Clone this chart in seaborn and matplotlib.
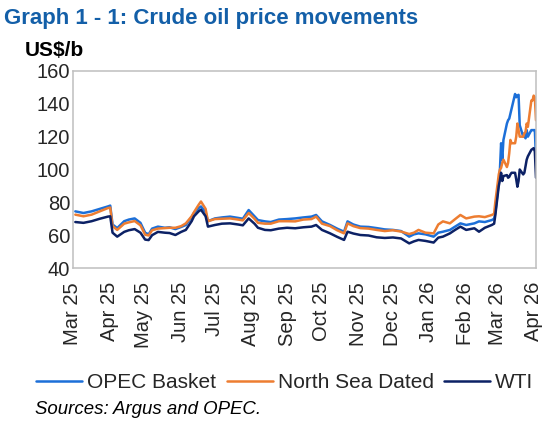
"""
Graph 1 - 1: Crude oil price movements
"""

import pandas as pd
import matplotlib
matplotlib.use('Agg')
import matplotlib.pyplot as plt
import matplotlib.dates as mdates
import seaborn as sns

# Data (US$/b)
dates = [
    '2025-03-03', '2025-03-10', '2025-03-17', '2025-03-24', '2025-03-31', '2025-04-02',
    '2025-04-04', '2025-04-08', '2025-04-14', '2025-04-18', '2025-04-23', '2025-04-28',
    '2025-05-02', '2025-05-05', '2025-05-08', '2025-05-13', '2025-05-19', '2025-05-23',
    '2025-05-28', '2025-06-02', '2025-06-06', '2025-06-11', '2025-06-13', '2025-06-17',
    '2025-06-19', '2025-06-23', '2025-06-25', '2025-07-01', '2025-07-07', '2025-07-14',
    '2025-07-21', '2025-07-25', '2025-07-30', '2025-08-04', '2025-08-07', '2025-08-13',
    '2025-08-18', '2025-08-25', '2025-09-01', '2025-09-08', '2025-09-15', '2025-09-22',
    '2025-09-26', '2025-10-01', '2025-10-08', '2025-10-14', '2025-10-20', '2025-10-23',
    '2025-10-28', '2025-11-03', '2025-11-10', '2025-11-17', '2025-11-24', '2025-12-01',
    '2025-12-08', '2025-12-15', '2025-12-19', '2025-12-23', '2025-12-29', '2026-01-05',
    '2026-01-09', '2026-01-13', '2026-01-19', '2026-01-23', '2026-01-28', '2026-02-02',
    '2026-02-09', '2026-02-13', '2026-02-18', '2026-02-24', '2026-02-26', '2026-02-27',
    '2026-03-02', '2026-03-03', '2026-03-04', '2026-03-05', '2026-03-06', '2026-03-09',
    '2026-03-10', '2026-03-11', '2026-03-12', '2026-03-13', '2026-03-16', '2026-03-17',
    '2026-03-18', '2026-03-19', '2026-03-20', '2026-03-23', '2026-03-24', '2026-03-25',
    '2026-03-26', '2026-03-27', '2026-03-30', '2026-03-31', '2026-04-01', '2026-04-02',
    '2026-04-03',
]

opec_basket = [
    74.5, 73.5, 74.5, 76.0, 77.5, 78.0,
    66.5, 64.3, 68.5, 69.5, 70.2, 67.5,
    61.5, 60.5, 64.0, 65.2, 64.5, 64.8,
    63.7, 65.0, 66.2, 71.0, 73.5, 76.5,
    77.5, 74.0, 68.5, 70.2, 70.8, 71.3,
    70.5, 70.0, 75.3, 71.5, 69.2, 68.4,
    68.0, 69.5, 69.8, 70.2, 70.8, 71.3,
    72.3, 68.4, 66.2, 64.0, 62.1, 68.4,
    66.5, 65.2, 65.0, 64.3, 63.5, 63.2,
    62.5, 59.1, 60.5, 61.1, 60.5, 59.1,
    61.5, 62.1, 63.2, 65.0, 67.2, 66.2,
    67.2, 68.4, 68.0, 69.2, 70.0, 73.5,
    92.0, 100.0, 116.0, 106.0, 118.0, 128.0,
    130.0, 131.0, 134.0, 137.0, 146.0, 144.0,
    145.0, 145.5, 127.0, 120.0, 122.0, 119.0,
    124.0, 120.0, 124.0, 124.0, 124.0, 124.0,
    107.0,
]

north_sea_dated = [
    72.5, 71.5, 72.5, 74.5, 76.5, 76.8,
    65.5, 63.2, 67.0, 67.8, 68.6, 66.0,
    60.3, 59.8, 63.0, 64.0, 64.3, 64.5,
    64.5, 65.5, 67.2, 71.5, 74.0, 78.5,
    80.5, 76.0, 68.5, 69.8, 70.0, 70.2,
    69.5, 69.0, 73.5, 70.0, 67.5, 67.0,
    67.0, 68.5, 68.5, 68.4, 69.5, 69.8,
    71.3, 67.0, 65.5, 63.0, 61.1, 67.2,
    65.5, 64.3, 64.0, 63.2, 62.5, 63.0,
    62.2, 60.7, 61.5, 63.2, 61.5, 61.1,
    66.5, 68.4, 67.2, 69.5, 72.3, 70.2,
    71.3, 71.5, 71.0, 72.3, 73.0, 80.0,
    97.0, 100.0, 101.0, 104.0, 106.0, 101.5,
    104.0, 110.0, 118.0, 116.0, 116.0, 120.0,
    128.0, 124.0, 120.0, 120.0, 122.0, 123.0,
    128.0, 126.0, 142.0, 142.0, 145.0, 144.0,
    130.0,
]

wti = [
    68.0, 67.5, 68.5, 70.0, 71.3, 71.5,
    61.5, 59.1, 62.0, 63.0, 63.7, 61.5,
    57.3, 57.0, 60.0, 62.0, 61.5, 61.3,
    60.1, 62.0, 63.2, 68.5, 71.5, 74.5,
    75.5, 71.5, 65.2, 66.2, 67.0, 67.2,
    66.5, 66.0, 70.2, 67.0, 64.5, 63.2,
    63.0, 64.0, 64.5, 64.2, 64.8, 65.2,
    66.2, 63.2, 61.1, 59.0, 57.1, 62.1,
    61.0, 60.1, 59.8, 58.7, 58.3, 58.6,
    58.0, 55.0, 56.2, 57.1, 56.5, 55.5,
    58.5, 59.1, 61.1, 63.0, 65.2, 63.2,
    64.2, 62.1, 64.5, 66.2, 67.0, 72.0,
    90.0, 93.6, 98.0, 93.0, 96.0, 96.6,
    95.0, 95.5, 97.0, 98.0, 98.0, 94.0,
    89.5, 93.0, 100.0, 97.0, 98.0, 102.0,
    106.0, 108.0, 112.0, 112.5, 113.0, 111.0,
    95.0,
]

series_names = ['OPEC Basket', 'North Sea Dated', 'WTI']
series_colors = ['#1C6FD8', '#ED7D31', '#0C2165']

df = pd.DataFrame({
    'date': pd.to_datetime(dates),
    'OPEC Basket': opec_basket,
    'North Sea Dated': north_sea_dated,
    'WTI': wti,
})
long_df = df.melt(id_vars='date', var_name='series', value_name='price')

# Style
sns.set_style('white')
plt.rcParams['font.family'] = ['Liberation Sans', 'DejaVu Sans']

W, H = 550, 421
fig = plt.figure(figsize=(W / 100, H / 100), dpi=100)
ax = fig.add_axes([73 / W, 1 - 268 / H, (536 - 73) / W, (268 - 71) / H])

sns.lineplot(data=long_df, x='date', y='price', hue='series',
             hue_order=series_names, palette=dict(zip(series_names, series_colors)),
             linewidth=1.8, ax=ax, legend=False)

ax.set_xlim(pd.Timestamp('2025-03-01'), pd.Timestamp('2026-04-03'))
ax.set_ylim(40, 160)
ax.set_yticks(range(40, 161, 20))
ax.xaxis.set_major_locator(mdates.MonthLocator())
ax.xaxis.set_major_formatter(mdates.DateFormatter('%b %y'))
ax.tick_params(axis='x', length=0, pad=10, labelsize=14.5, labelrotation=90)
ax.tick_params(axis='y', length=0, pad=2, labelsize=14.5)
ax.set_xlabel('')
ax.set_ylabel('')
ax.grid(False)
for spine in ax.spines.values():
    spine.set_color('#BFBFBF')
    spine.set_linewidth(1.1)

# Legend below the plot
fig.legend(handles=ax.get_lines()[:3], labels=series_names,
           loc='center', bbox_to_anchor=(285 / W, 1 - 383 / H), ncol=3,
           frameon=False, fontsize=15, handlelength=2.2,
           handletextpad=0.25, columnspacing=0.5)

# Texts
fig.text(4 / W, 1 - 24 / H, 'Graph 1 - 1: Crude oil price movements',
         fontsize=16, fontweight='bold', color='#135FA8', va='baseline')
fig.text(25 / W, 1 - 56 / H, 'US$/b', fontsize=15, fontweight='bold',
         color='black', va='baseline')
fig.text(35 / W, 1 - 414 / H, 'Sources: Argus and OPEC.', fontsize=13.4,
         style='italic', color='black', va='baseline')

fig.savefig('out.png', dpi=100)
plt.close(fig)
